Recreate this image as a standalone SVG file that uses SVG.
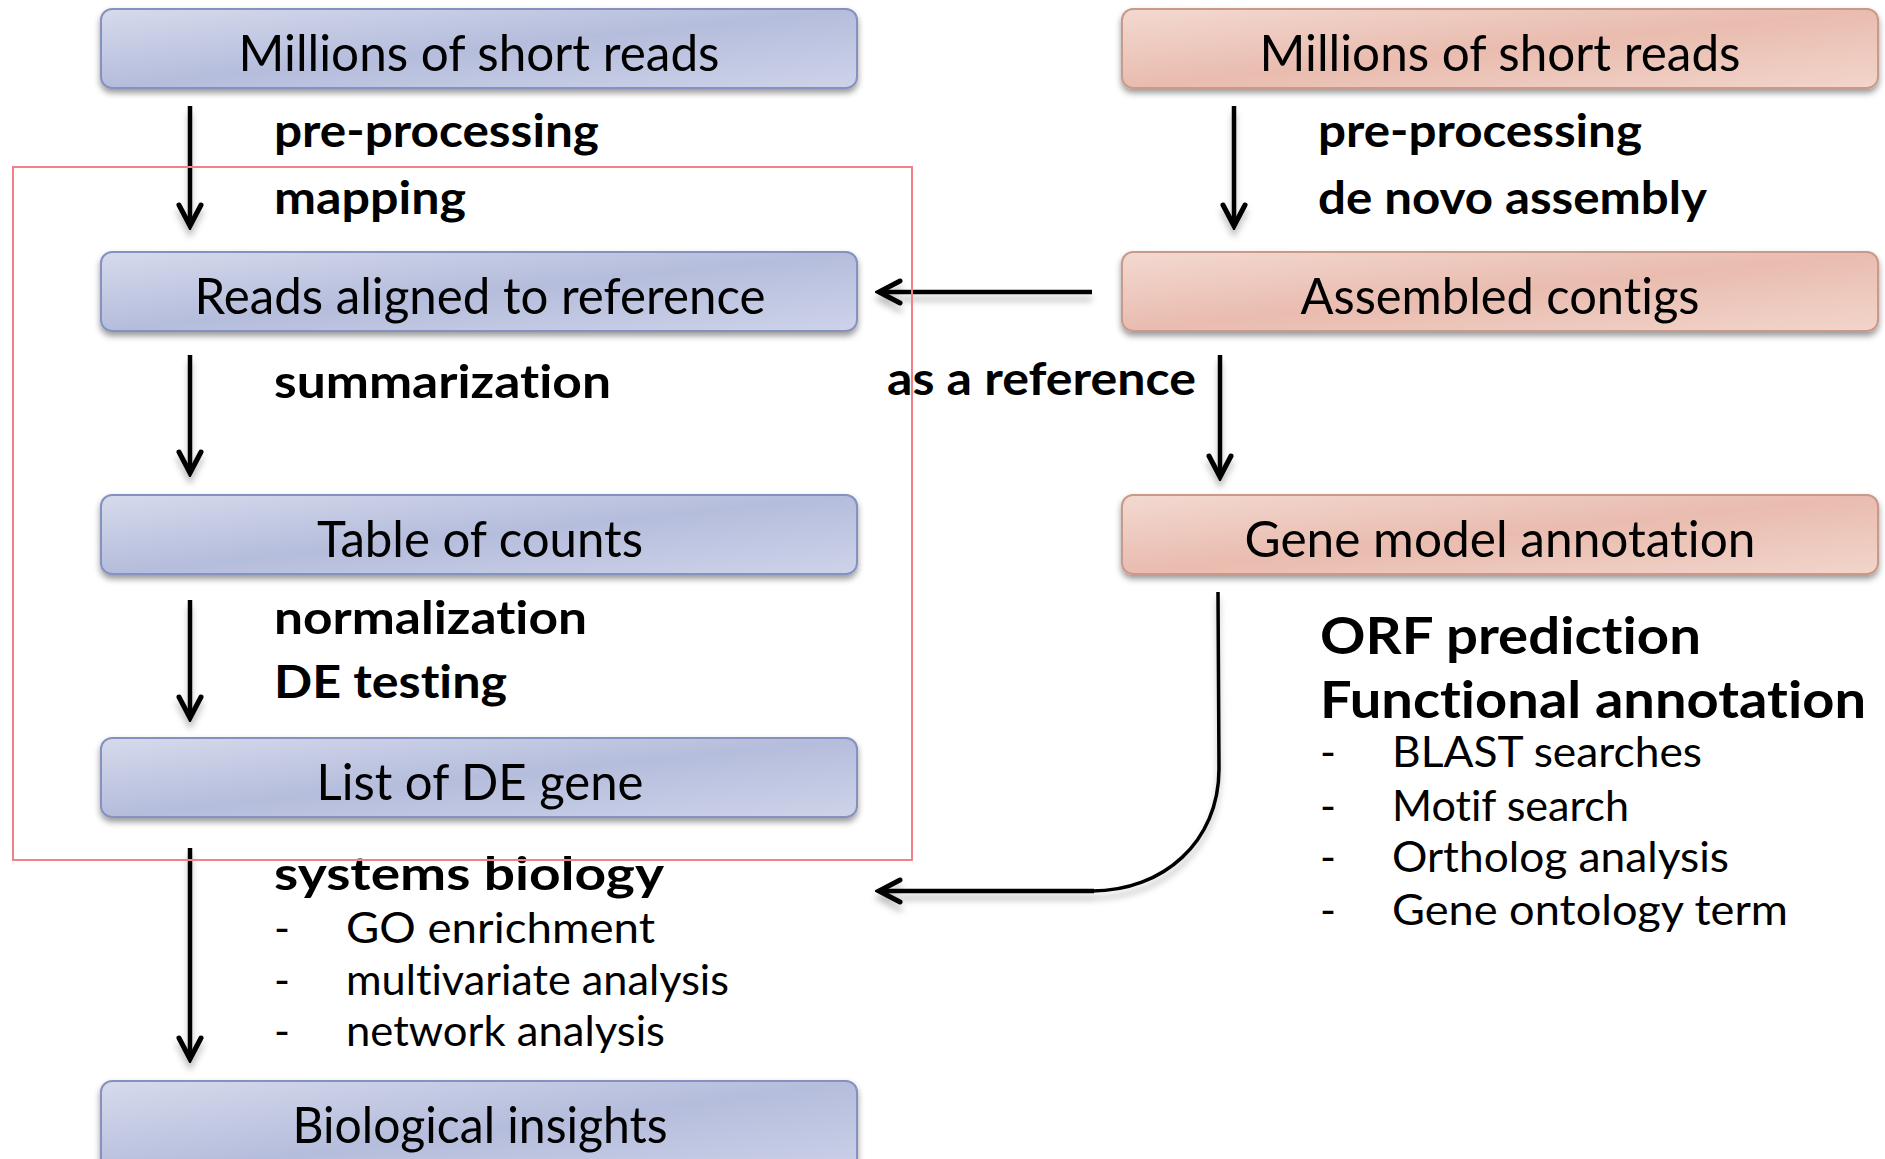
<svg xmlns="http://www.w3.org/2000/svg" width="1885" height="1159" viewBox="0 0 1885 1159">
  <defs>
    <linearGradient id="blueFill" x1="0" y1="0" x2="1" y2="1">
      <stop offset="0" stop-color="#d6daec"/>
      <stop offset="0.5" stop-color="#b5bddc"/>
      <stop offset="1" stop-color="#ced3e9"/>
    </linearGradient>
    <linearGradient id="pinkFill" x1="0" y1="0" x2="1" y2="1">
      <stop offset="0" stop-color="#f3d9d1"/>
      <stop offset="0.5" stop-color="#e9bcaf"/>
      <stop offset="1" stop-color="#f2d5cb"/>
    </linearGradient>
    <filter id="boxShadow" x="-5%" y="-20%" width="110%" height="150%">
      <feDropShadow dx="0" dy="4" stdDeviation="3" flood-color="#000" flood-opacity="0.4"/>
    </filter>
    <filter id="lineShadow" x="-10%" y="-10%" width="120%" height="130%">
      <feDropShadow dx="0" dy="7" stdDeviation="3" flood-color="#000" flood-opacity="0.25"/>
    </filter>
    <marker id="arrowHead" markerUnits="userSpaceOnUse" viewBox="-28 -16 32 32" markerWidth="32" markerHeight="32" refX="0" refY="0" orient="auto">
      <path d="M-21,-11 L0,0 L-21,11" fill="none" stroke="#000" stroke-width="5" stroke-linecap="round" stroke-linejoin="miter"/>
    </marker>
  </defs>
  <style>
    .blue { fill: url(#blueFill); stroke: #8592bf; stroke-width: 2; filter: url(#boxShadow); }
    .pink { fill: url(#pinkFill); stroke: #c99a8b; stroke-width: 2; filter: url(#boxShadow); }
    text { font-family: Lato, "Liberation Sans", sans-serif; fill: #000; font-variant-ligatures: none; font-feature-settings: "liga" 0, "clig" 0; }
    .boxText { font-size: 50px; text-anchor: middle; }
    .label { font-weight: bold; font-size: 45px; }
    .bigLabel { font-weight: bold; font-size: 51px; }
    .item { font-size: 43px; }
    .conn { fill: none; stroke: #000; stroke-width: 4.5; marker-end: url(#arrowHead); }
    .curve { fill: none; stroke: #000; stroke-width: 3.5; }
  </style>

  <!-- left pipeline: reference-based -->
  <g id="left-reads">
    <rect class="blue" x="101" y="9" width="756" height="79" rx="11"/>
    <text class="boxText" x="479" y="71" textLength="481" lengthAdjust="spacingAndGlyphs">Millions of short reads</text>
  </g>
  <g id="aligned-reads">
    <rect class="blue" x="101" y="252" width="756" height="79" rx="11"/>
    <text class="boxText" x="480" y="314" textLength="571" lengthAdjust="spacingAndGlyphs">Reads aligned to reference</text>
  </g>
  <g id="count-table">
    <rect class="blue" x="101" y="495" width="756" height="79" rx="11"/>
    <text class="boxText" x="480" y="557" textLength="326" lengthAdjust="spacingAndGlyphs">Table of counts</text>
  </g>
  <g id="de-genes">
    <rect class="blue" x="101" y="738" width="756" height="79" rx="11"/>
    <text class="boxText" x="480" y="800" textLength="327" lengthAdjust="spacingAndGlyphs">List of DE gene</text>
  </g>
  <g id="insights">
    <rect class="blue" x="101" y="1081" width="756" height="100" rx="11"/>
    <text class="boxText" x="480" y="1143" textLength="375" lengthAdjust="spacingAndGlyphs">Biological insights</text>
  </g>

  <!-- right pipeline: de novo -->
  <g id="right-reads">
    <rect class="pink" x="1122" y="9" width="756" height="79" rx="11"/>
    <text class="boxText" x="1500" y="71" textLength="481" lengthAdjust="spacingAndGlyphs">Millions of short reads</text>
  </g>
  <g id="contigs">
    <rect class="pink" x="1122" y="252" width="756" height="79" rx="11"/>
    <text class="boxText" x="1500" y="314" textLength="399" lengthAdjust="spacingAndGlyphs">Assembled contigs</text>
  </g>
  <g id="gene-models">
    <rect class="pink" x="1122" y="495" width="756" height="79" rx="11"/>
    <text class="boxText" x="1500" y="557" textLength="511" lengthAdjust="spacingAndGlyphs">Gene model annotation</text>
  </g>

  <!-- step labels -->
  <g id="step-labels">
    <text class="label" x="274" y="147" textLength="325" lengthAdjust="spacingAndGlyphs">pre-processing</text>
    <text class="label" x="274" y="214" textLength="192" lengthAdjust="spacingAndGlyphs">mapping</text>
    <text class="label" x="274" y="398" textLength="337" lengthAdjust="spacingAndGlyphs">summarization</text>
    <text class="label" x="274" y="634" textLength="313" lengthAdjust="spacingAndGlyphs">normalization</text>
    <text class="label" x="274" y="698" textLength="233" lengthAdjust="spacingAndGlyphs">DE testing</text>
    <text class="label" x="274" y="890" textLength="390" lengthAdjust="spacingAndGlyphs">systems biology</text>
    <text class="item" x="274" y="943">-</text>
    <text class="item" x="346" y="943" textLength="309" lengthAdjust="spacingAndGlyphs">GO enrichment</text>
    <text class="item" x="274" y="995">-</text>
    <text class="item" x="346" y="995" textLength="383" lengthAdjust="spacingAndGlyphs">multivariate analysis</text>
    <text class="item" x="274" y="1046">-</text>
    <text class="item" x="346" y="1046" textLength="319" lengthAdjust="spacingAndGlyphs">network analysis</text>

    <text class="label" x="1318" y="147" textLength="324" lengthAdjust="spacingAndGlyphs">pre-processing</text>
    <text class="label" x="1318" y="214" textLength="389" lengthAdjust="spacingAndGlyphs">de novo assembly</text>
    <text class="label" x="887" y="395" textLength="309" lengthAdjust="spacingAndGlyphs">as a reference</text>

    <text class="bigLabel" x="1320" y="654" textLength="381" lengthAdjust="spacingAndGlyphs">ORF prediction</text>
    <text class="bigLabel" x="1320" y="718" textLength="546" lengthAdjust="spacingAndGlyphs">Functional annotation</text>
    <text class="item" x="1320" y="767">-</text>
    <text class="item" x="1392" y="767" textLength="310" lengthAdjust="spacingAndGlyphs">BLAST searches</text>
    <text class="item" x="1320" y="821">-</text>
    <text class="item" x="1392" y="821" textLength="237" lengthAdjust="spacingAndGlyphs">Motif search</text>
    <text class="item" x="1320" y="872">-</text>
    <text class="item" x="1392" y="872" textLength="337" lengthAdjust="spacingAndGlyphs">Ortholog analysis</text>
    <text class="item" x="1320" y="925">-</text>
    <text class="item" x="1392" y="925" textLength="396" lengthAdjust="spacingAndGlyphs">Gene ontology term</text>
  </g>

  <!-- connectors -->
  <g id="connectors" filter="url(#lineShadow)">
    <path class="conn" d="M190,106 L190,226"/>
    <path class="conn" d="M190,355 L190,473"/>
    <path class="conn" d="M190,600 L190,718"/>
    <path class="conn" d="M190,848 L190,1059"/>
    <path class="conn" d="M1234,106 L1234,226"/>
    <path class="conn" d="M1220,355 L1220,477"/>
    <path class="conn" d="M1092,292 L879,292"/>
    <path class="curve" d="M1218,592 L1219,769 C1219,842 1163,891 1092,891"/>
    <path class="conn" d="M1094,891 L879,891"/>
  </g>

  <!-- highlight frame around the counting steps -->
  <g id="highlight-frame">
    <rect x="13" y="167" width="899" height="693" fill="none" stroke="#f28089" stroke-width="2"/>
  </g>
</svg>
